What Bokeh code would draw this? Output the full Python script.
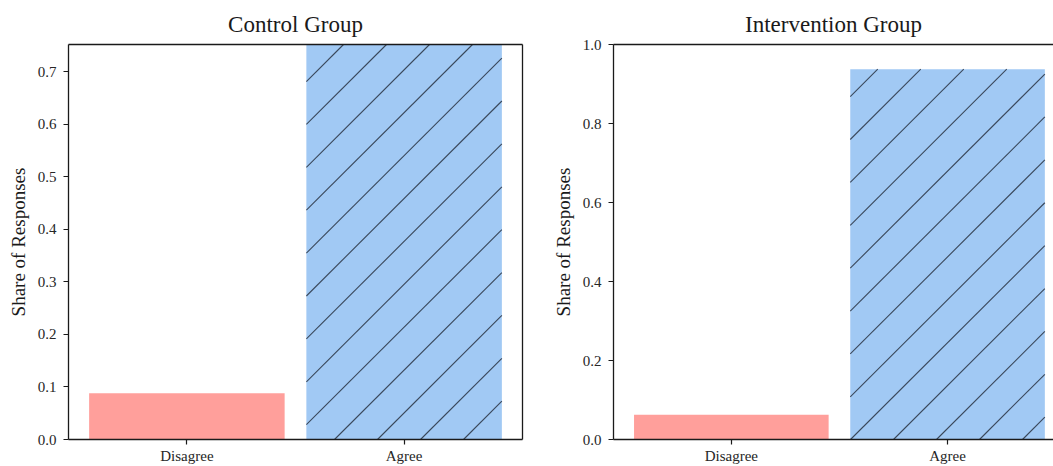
import math
from bokeh.plotting import figure
from bokeh.models import Range1d, LinearAxis, FixedTicker, PrintfTickFormatter, ColumnDataSource
from bokeh.layouts import row
from bokeh.embed import file_html
from bokeh.resources import INLINE

categories = ["Disagree", "Agree"]
control_shares = [0.088, 0.912]
intervention_shares = [0.0625, 0.9375]
bar_colors = ["#ff9f9b", "#a1c9f4"]
bar_hatched = [False, True]
control_ticks = [0.0, 0.1, 0.2, 0.3, 0.4, 0.5, 0.6, 0.7]
intervention_ticks = [0.0, 0.2, 0.4, 0.6, 0.8, 1.0]

FONT = "Liberation Serif"
INK = "#1a1a1a"
BAR_W = 0.9
X_START = -0.545
HEIGHT = 466
B_TOP = 44
B_BOTTOM = 26
HATCH_SPACING = 43


def hatch_segments(xs, tops, x_end, y_end, frame_w, b_left, page_offset):
    """45-degree hatch lines (screen space) inside each hatched bar, returned in data units."""
    frame_h = HEIGHT - B_TOP - B_BOTTOM
    kx = frame_w / (x_end - X_START)
    ky = frame_h / y_end
    to_px_x = lambda x: b_left + (x - X_START) * kx
    to_px_y = lambda y: B_TOP + (y_end - y) * ky
    to_dx = lambda X: X_START + (X - b_left) / kx
    to_dy = lambda Y: y_end - (Y - B_TOP) / ky
    x0s, y0s, x1s, y1s = [], [], [], []
    for x, top, h in zip(xs, tops, bar_hatched):
        if not h:
            continue
        X0 = to_px_x(max(x - BAR_W / 2, X_START))
        X1 = to_px_x(min(x + BAR_W / 2, x_end))
        Y0 = to_px_y(min(top, y_end))
        Y1 = to_px_y(0)
        s = math.ceil((X0 + Y0 + page_offset) / HATCH_SPACING) * HATCH_SPACING - page_offset
        while s <= X1 + Y1:
            Xa = max(X0, s - Y1)
            Xb = min(X1, s - Y0)
            if Xa < Xb:
                x0s.append(to_dx(Xa)); y0s.append(to_dy(s - Xa))
                x1s.append(to_dx(Xb)); y1s.append(to_dy(s - Xb))
            s += HATCH_SPACING
    return dict(x0=x0s, y0=y0s, x1=x1s, y1=y1s)


def spine_axis():
    return LinearAxis(ticker=FixedTicker(ticks=[]), major_tick_line_color=None,
                      minor_tick_line_color=None, major_label_text_font_size="0px",
                      axis_line_width=1.3, axis_line_color=INK,
                      major_label_standoff=0, major_tick_out=0)


def panel(title, shares, ticks, y_end, x_end, width, b_left, b_right, right_spine, page_offset):
    xs = list(range(len(categories)))
    src = ColumnDataSource(dict(x=xs, top=shares, color=bar_colors))
    p = figure(width=width, height=HEIGHT, x_range=Range1d(X_START, x_end), y_range=Range1d(0, y_end),
               output_backend="svg", toolbar_location=None,
               min_border_left=b_left, min_border_right=b_right,
               min_border_top=B_TOP, min_border_bottom=B_BOTTOM, outline_line_color=None)
    p.vbar(x="x", top="top", width=BAR_W, source=src, fill_color="color", line_color=None)
    hs = ColumnDataSource(hatch_segments(xs, shares, x_end, y_end, width - b_left - b_right,
                                         b_left, page_offset))
    p.segment(x0="x0", y0="y0", x1="x1", y1="y1", source=hs, line_color="#2f3a4a",
              line_width=1.1, line_alpha=0.9)
    p.grid.visible = False
    p.title.text = title
    p.title.align = "center"
    p.title.text_font = FONT
    p.title.text_font_size = "23px"
    p.title.text_font_style = "normal"
    p.title.text_color = INK
    p.title.standoff = 15

    xa = p.xaxis[0]
    xa.ticker = FixedTicker(ticks=xs)
    xa.major_label_overrides = {i: c for i, c in enumerate(categories)}
    ya = p.yaxis[0]
    ya.ticker = FixedTicker(ticks=ticks)
    ya.formatter = PrintfTickFormatter(format="%.1f")
    ya.axis_label = "Share of Responses"
    ya.axis_label_text_font = FONT
    ya.axis_label_text_font_size = "19px"
    ya.axis_label_text_font_style = "normal"
    ya.axis_label_text_color = INK
    ya.axis_label_standoff = 6
    for ax in (xa, ya):
        ax.axis_line_width = 1.3
        ax.axis_line_color = INK
        ax.major_tick_line_color = INK
        ax.major_tick_line_width = 1.2
        ax.minor_tick_line_color = None
        ax.major_tick_in = 0
        ax.major_tick_out = 5
        ax.major_label_text_font = FONT
        ax.major_label_text_font_size = "15px"
        ax.major_label_text_color = "#262626"
    xa.major_label_standoff = 3
    ya.major_label_standoff = 7
    p.add_layout(spine_axis(), "above")
    if right_spine:
        p.add_layout(spine_axis(), "right")
    return p


LEFT_W = 532
left = panel("Control Group", control_shares, control_ticks, 0.752, 1.545, LEFT_W, 68, 10, True, 0)
right = panel("Intervention Group", intervention_shares, intervention_ticks, 1.0, 1.49, 521, 81, 0, False, LEFT_W)

layout = row(left, right, spacing=0)
open("out.html", "w").write(file_html(layout, INLINE))
